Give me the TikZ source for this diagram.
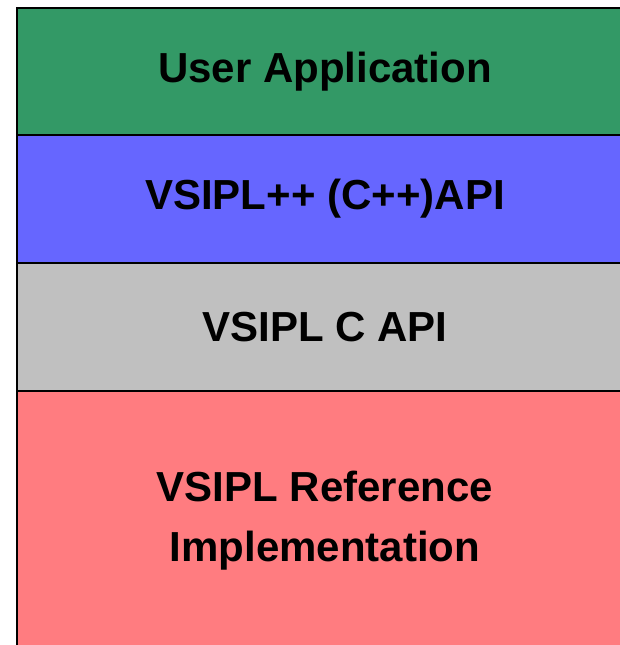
\documentclass[tikz,border=0pt]{standalone}
\usepackage{fontspec}
\setmainfont{Liberation Sans}
\usetikzlibrary{positioning}
\definecolor{appgreen}{HTML}{339966}
\definecolor{cxxblue}{HTML}{6666FF}
\definecolor{capigray}{HTML}{C0C0C0}
\definecolor{refpink}{HTML}{FF7C80}

\begin{document}
\begin{tikzpicture}[x=1pt, y=-1pt,
	layer/.style={draw=black, line width=2pt, outer sep=0pt, inner sep=0pt,
		minimum width=616pt, minimum height=128pt, align=center,
		font=\fontsize{42}{60}\selectfont\bfseries}]
			\useasboundingbox (0,0) rectangle (620,645);
			\clip (0,0) rectangle (620,645);
			\node[layer, fill=appgreen, minimum height=127.5pt] (app) at (325,71.25) {User Application};
			\node[layer, fill=cxxblue, below=0pt of app] (cxx) {VSIPL++ (C++)API};
			\node[layer, fill=capigray, below=0pt of cxx] (capi) {VSIPL C API};
			\node[layer, fill=refpink, minimum height=259pt, below=0pt of capi] (ref) {VSIPL Reference\\Implementation};
		\end{tikzpicture}
\end{document}
